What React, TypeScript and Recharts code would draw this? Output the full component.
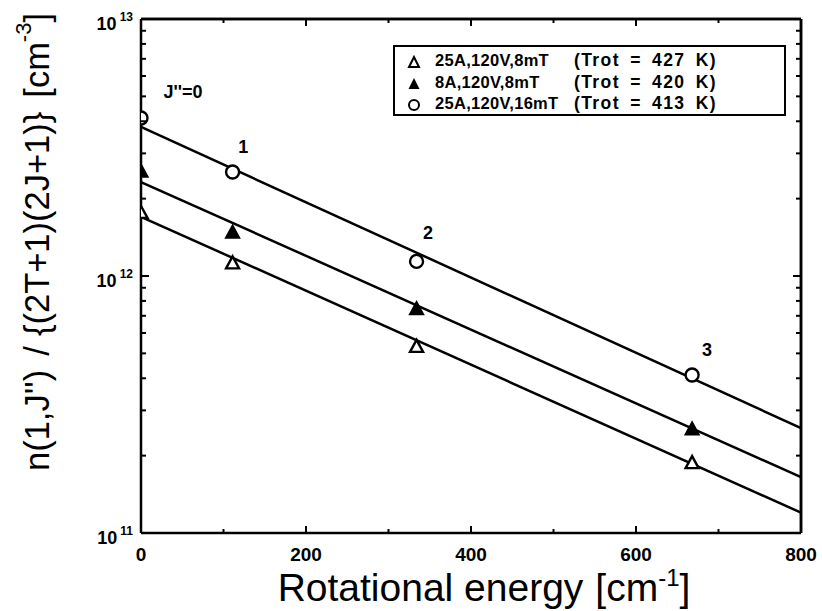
import React from 'react';
import { ComposedChart, Line, Scatter, XAxis, YAxis, Legend, ReferenceDot, ReferenceLine } from 'recharts';

// Rotational energy (cm^-1) of levels J'' = 0..3
const energies = [0, 111, 334, 668];
// n(1,J'')/{(2T+1)(2J+1)} [cm^-3]
const openTriangleValues = [1.76e12, 1.12e12, 5.3e11, 1.87e11]; // 25A,120V,8mT
const filledTriangleValues = [2.54e12, 1.47e12, 7.4e11, 2.52e11]; // 8A,120V,8mT
const circleValues = [4.12e12, 2.54e12, 1.14e12, 4.12e11]; // 25A,120V,16mT

// Boltzmann fit lines (endpoints at x = 0 and x = 800)
const fitX = [0, 800];
const openTriangleFit = [1.7e12, 1.2e11];
const filledTriangleFit = [2.32e12, 1.65e11];
const circleFit = [3.8e12, 2.56e11];

const seriesNames = ['25A,120V,8mT', '8A,120V,8mT', '25A,120V,16mT'];
const seriesTrot = ['(Trot = 427 K)', '(Trot = 420 K)', '(Trot = 413 K)'];

const xTicks = [0, 100, 200, 300, 400, 500, 600, 700, 800];
const xTickLabels = ['0', '', '200', '', '400', '', '600', '', '800'];
const yTicks = [
  1e11, 2e11, 3e11, 4e11, 5e11, 6e11, 7e11, 8e11, 9e11,
  1e12, 2e12, 3e12, 4e12, 5e12, 6e12, 7e12, 8e12, 9e12, 1e13,
];

// level annotations
const annotX = [51, 124, 348, 686];
const annotY = [5.2e12, 3.18e12, 1.48e12, 5.15e11];
const annotText = ["J''=0", '1', '2', '3'];

const toPoints = (xs: number[], ys: number[]) => xs.map((x, i) => ({ x, y: ys[i] }));

const openTri = toPoints(energies, openTriangleValues);
const filledTri = toPoints(energies, filledTriangleValues);
const circles = toPoints(energies, circleValues);
const openFit = toPoints(fitX, openTriangleFit);
const filledFit = toPoints(fitX, filledTriangleFit);
const circFit = toPoints(fitX, circleFit);

const FONT = '"Liberation Sans", Arial, Helvetica, sans-serif';

const OpenTriangle = (p: any) => (
  <polygon
    points={`${p.cx},${p.cy - 7} ${p.cx - 6.5},${p.cy + 5} ${p.cx + 6.5},${p.cy + 5}`}
    fill="#fff"
    stroke="#000"
    strokeWidth={2.4}
  />
);
const FilledTriangle = (p: any) => (
  <polygon
    points={`${p.cx},${p.cy - 8} ${p.cx - 7},${p.cy + 5} ${p.cx + 7},${p.cy + 5}`}
    fill="#000"
    stroke="#000"
    strokeWidth={1.5}
  />
);
const OpenCircle = (p: any) => (
  <circle cx={p.cx} cy={p.cy} r={6.5} fill="#fff" stroke="#000" strokeWidth={2.4} />
);

const isDecade = (v: number) => Math.abs(Math.log10(v) - Math.round(Math.log10(v))) < 1e-9;

const LeftTick = (props: any) => {
  const { x, y, payload } = props;
  const v = payload.value;
  const major = isDecade(v);
  const exp = Math.round(Math.log10(v));
  return (
    <g>
      <line x1={x} x2={x + (major ? 8 : 5)} y1={y} y2={y} stroke="#000" strokeWidth={2} />
      {major && (
        <text x={x - 8} y={y + 11} textAnchor="end" fontFamily={FONT} fontWeight="bold" fontSize={18} fill="#000">
          10
          <tspan dx={3} dy={-9} fontSize={12}>{exp}</tspan>
        </text>
      )}
    </g>
  );
};

const RightTick = (props: any) => {
  const { x, y, payload } = props;
  const major = isDecade(payload.value);
  return <line x1={x} x2={x - (major ? 8 : 5)} y1={y} y2={y} stroke="#000" strokeWidth={2} />;
};

const BottomTick = (props: any) => {
  const { x, y, index } = props;
  const label = xTickLabels[index] ?? '';
  const major = label !== '';
  return (
    <g>
      <line x1={x} x2={x} y1={y} y2={y - (major ? 7 : 4)} stroke="#000" strokeWidth={2} />
      {major && (
        <text x={x} y={y + 28} textAnchor="middle" fontFamily={FONT} fontWeight="bold" fontSize={19} fill="#000">
          {label}
        </text>
      )}
    </g>
  );
};

const TopTick = (props: any) => {
  const { x, y, index } = props;
  const major = (xTickLabels[index] ?? '') !== '';
  return <line x1={x} x2={x} y1={y} y2={y + (major ? 7 : 4)} stroke="#000" strokeWidth={2} />;
};

const XTitle = (props: any) => {
  const vb = props.viewBox;
  return (
    <text x={vb.x + vb.width / 2 + 13} y={vb.y + 68} textAnchor="middle" fontFamily={FONT} fontSize={39} fill="#000">
      Rotational energy
      <tspan dx={12}>[cm</tspan>
      <tspan dy={-15} fontSize={24}>-1</tspan>
      <tspan dy={15}>]</tspan>
    </text>
  );
};

const YTitle = () => {
  const cx = 37;
  const cy = 242;
  return (
    <text
      x={cx}
      y={cy}
      transform={`rotate(-90 ${cx} ${cy})`}
      textAnchor="middle"
      dominantBaseline="central"
      fontFamily={FONT}
      fontSize={34.5}
      fill="#000"
    >
      n(1,J'')
      <tspan dx={14}>/</tspan>
      <tspan dx={10}>{'{(2T+1)(2J+1)}'}</tspan>
      <tspan dx={14}>[cm</tspan>
      <tspan dy={-14} fontSize={22}>-3</tspan>
      <tspan dy={14}>]</tspan>
    </text>
  );
};

const legendSymbols = [
  <svg width={14} height={14} key="a"><polygon points="7,2 2,12 12,12" fill="#fff" stroke="#000" strokeWidth={2} /></svg>,
  <svg width={14} height={14} key="b"><polygon points="7,1 1.5,12 12.5,12" fill="#000" /></svg>,
  <svg width={14} height={14} key="c"><circle cx={7} cy={7} r={5} fill="#fff" stroke="#000" strokeWidth={2} /></svg>,
];

const LegendBox = () => (
  <div
    style={{
      border: '2px solid #000',
      width: 393,
      height: 71,
      boxSizing: 'border-box',
      fontFamily: FONT,
      fontWeight: 'bold',
      fontSize: 16.5,
      color: '#000',
      paddingTop: 3,
      background: '#fff',
    }}
  >
    {seriesNames.map((n, i) => (
      <div key={n} style={{ position: 'relative', height: 21.5, lineHeight: '21.5px', whiteSpace: 'nowrap' }}>
        <span style={{ position: 'absolute', left: 12, top: 3 }}>{legendSymbols[i]}</span>
        <span style={{ position: 'absolute', left: 40, letterSpacing: 0.3 }}>{n}</span>
        <span style={{ position: 'absolute', left: 179, fontSize: 17.5, letterSpacing: 1.4, wordSpacing: 4 }}>
          {seriesTrot[i]}
        </span>
      </div>
    ))}
  </div>
);

export default function App() {
  return (
    <div style={{ position: 'absolute', left: 0, top: 0, background: '#fff' }}>
      <ComposedChart width={822} height={611} margin={{ top: 18, right: 20, bottom: 48, left: 81 }}>
        <XAxis
          xAxisId="b"
          type="number"
          dataKey="x"
          domain={[0, 800]}
          ticks={xTicks}
          allowDataOverflow
          height={30}
          tickSize={0}
          tickMargin={0}
          tickLine={false}
          axisLine={{ stroke: '#000', strokeWidth: 2.5 }}
          tick={<BottomTick />}
          interval={0}
          label={<XTitle />}
        />
        <XAxis
          xAxisId="t"
          orientation="top"
          type="number"
          dataKey="x"
          domain={[0, 800]}
          ticks={xTicks}
          allowDataOverflow
          height={1}
          tickSize={0}
          tickMargin={0}
          tickLine={false}
          axisLine={{ stroke: '#000', strokeWidth: 2.5 }}
          tick={<TopTick />}
          interval={0}
        />
        <YAxis
          yAxisId="l"
          type="number"
          scale="log"
          domain={[1e11, 1e13]}
          ticks={yTicks}
          allowDataOverflow
          width={60}
          tickSize={0}
          tickMargin={0}
          tickLine={false}
          axisLine={{ stroke: '#000', strokeWidth: 2.5 }}
          tick={<LeftTick />}
          interval={0}
          label={<YTitle />}
        />
        <YAxis
          yAxisId="r"
          orientation="right"
          type="number"
          scale="log"
          domain={[1e11, 1e13]}
          ticks={yTicks}
          allowDataOverflow
          width={1}
          tickSize={0}
          tickMargin={0}
          tickLine={false}
          axisLine={{ stroke: '#000', strokeWidth: 2.5 }}
          tick={<RightTick />}
          interval={0}
        />
        <ReferenceLine xAxisId="b" yAxisId="l" y={1e13} stroke="#000" strokeWidth={2.5} ifOverflow="visible" />
        <ReferenceLine xAxisId="b" yAxisId="l" x={800} stroke="#000" strokeWidth={2.5} ifOverflow="visible" />
        <Line xAxisId="b" yAxisId="l" data={openFit} dataKey="y" type="linear" stroke="#000" strokeWidth={2.5} dot={false} isAnimationActive={false} legendType="none" />
        <Line xAxisId="b" yAxisId="l" data={filledFit} dataKey="y" type="linear" stroke="#000" strokeWidth={2.5} dot={false} isAnimationActive={false} legendType="none" />
        <Line xAxisId="b" yAxisId="l" data={circFit} dataKey="y" type="linear" stroke="#000" strokeWidth={2.5} dot={false} isAnimationActive={false} legendType="none" />
        <Scatter xAxisId="b" yAxisId="l" data={openTri} dataKey="y" shape={<OpenTriangle />} isAnimationActive={false} />
        <Scatter xAxisId="b" yAxisId="l" data={filledTri} dataKey="y" shape={<FilledTriangle />} isAnimationActive={false} />
        <Scatter xAxisId="b" yAxisId="l" data={circles} dataKey="y" shape={<OpenCircle />} isAnimationActive={false} />
        {annotText.map((t, i) => (
          <ReferenceDot
            key={t}
            xAxisId="b"
            yAxisId="l"
            x={annotX[i]}
            y={annotY[i]}
            r={0}
            stroke="none"
            fill="none"
            ifOverflow="visible"
            label={{ value: t, position: 'center', fontFamily: FONT, fontWeight: 'bold', fontSize: 18, fill: '#000' }}
          />
        ))}
        <Legend
          layout="horizontal"
          verticalAlign="middle"
          content={<LegendBox />}
          wrapperStyle={{ position: 'absolute', left: 393, top: 45, width: 393, height: 71 }}
        />
      </ComposedChart>
    </div>
  );
}
